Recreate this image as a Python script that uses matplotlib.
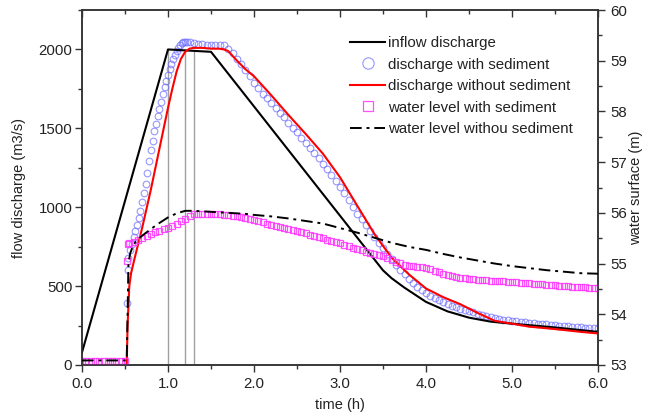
import numpy as np
import matplotlib
matplotlib.use("Agg")
import matplotlib.pyplot as plt
from matplotlib.ticker import MultipleLocator, FormatStrFormatter

plt.rcParams['font.family'] = ['Liberation Sans', 'DejaVu Sans']

# ---------------- data ----------------
# inflow discharge (m3/s)
inflow_t = [0.0, 1.0, 1.5, 3.5, 3.6, 3.75, 4.0, 4.25, 4.5, 4.75, 5.0, 5.5, 6.0]
inflow_q = [80, 2000, 1985, 600, 550, 490, 400, 340, 300, 275, 262, 238, 210]

# discharge without sediment (m3/s)
nosed_t = [0.0, 0.52, 0.53, 0.55, 0.57, 0.6, 0.65, 0.7, 0.75, 0.8, 0.85, 0.9, 0.95,
           1.0, 1.05, 1.1, 1.15, 1.2, 1.25, 1.3, 1.4, 1.5, 1.6, 1.65, 1.7, 1.8, 1.9,
           2.0, 2.2, 2.4, 2.6, 2.8, 3.0, 3.2, 3.4, 3.6, 3.8, 4.0, 4.2, 4.4, 4.6,
           4.8, 5.0, 5.2, 5.4, 5.6, 5.8, 6.0]
nosed_q = [0, 0, 250, 500, 580, 650, 760, 870, 990, 1110, 1240, 1370, 1500,
           1630, 1750, 1860, 1940, 1985, 2005, 2010, 2010, 2005, 2005, 2000, 1990, 1930, 1875,
           1830, 1710, 1585, 1465, 1340, 1190, 1010, 830, 680, 575, 485, 430, 385, 330,
           280, 262, 243, 233, 222, 210, 200]

# discharge with sediment (m3/s), markers
sed_t = [0.52, 0.53, 0.54, 0.56, 0.58, 0.60, 0.62, 0.64, 0.66, 0.68, 0.70, 0.72, 0.74,
         0.76, 0.78, 0.80, 0.82, 0.84, 0.86, 0.88, 0.90, 0.92, 0.94, 0.96, 0.98, 1.00,
         1.02, 1.04, 1.06, 1.08, 1.10, 1.12, 1.14, 1.16, 1.18, 1.20, 1.22, 1.25, 1.30,
         1.35, 1.40, 1.45, 1.50, 1.55, 1.60, 1.65, 1.70, 1.75, 1.80, 1.85, 1.90, 1.95,
         2.00, 2.05, 2.10, 2.15, 2.20, 2.25, 2.30, 2.35, 2.40, 2.45, 2.50, 2.55, 2.60,
         2.65, 2.70, 2.75, 2.80, 2.85, 2.90, 2.95, 3.00, 3.05, 3.10, 3.15, 3.20, 3.25,
         3.30, 3.35, 3.40, 3.45, 3.50, 3.55, 3.60, 3.65, 3.70, 3.75, 3.80, 3.85, 3.90,
         3.95, 4.00, 4.05, 4.10, 4.15, 4.20, 4.25, 4.30, 4.35, 4.40, 4.45, 4.50, 4.55,
         4.60, 4.65, 4.70, 4.75, 4.80, 4.85, 4.90, 4.95, 5.00, 5.05, 5.10, 5.15, 5.20,
         5.25, 5.30, 5.35, 5.40, 5.45, 5.50, 5.55, 5.60, 5.65, 5.70, 5.75, 5.80, 5.85,
         5.90, 5.95, 6.00]
sed_q = [390, 600, 680, 730, 770, 810, 850, 890, 930, 975, 1030, 1090, 1150,
         1220, 1290, 1360, 1420, 1480, 1530, 1580, 1625, 1670, 1715, 1760, 1800, 1840,
         1875, 1910, 1940, 1965, 1990, 2010, 2025, 2040, 2048, 2050, 2050, 2045, 2040,
         2035, 2035, 2030, 2030, 2030, 2025, 2025, 2005, 1975, 1940, 1905, 1870, 1830,
         1790, 1755, 1720, 1690, 1660, 1630, 1600, 1570, 1535, 1505, 1475, 1440, 1410,
         1375, 1345, 1310, 1275, 1240, 1205, 1165, 1128, 1090, 1045, 1000, 960, 925,
         885, 850, 810, 775, 740, 705, 670, 635, 605, 575, 545, 520, 495,
         475, 455, 440, 425, 410, 398, 388, 377, 367, 358, 350, 343, 335,
         325, 315, 308, 302, 297, 292, 288, 284, 280, 277, 273, 270, 268,
         265, 262, 260, 257, 255, 252, 250, 247, 245, 243, 241, 239, 237,
         235, 233, 232]

# water level with sediment (m), markers
wl_sed_t = [0.00, 0.05, 0.10, 0.15, 0.20, 0.25, 0.30, 0.35, 0.40, 0.45, 0.50, 0.52, 0.53,
            0.55, 0.60, 0.65, 0.70, 0.75, 0.80, 0.85, 0.90, 0.95, 1.00, 1.05, 1.10, 1.15,
            1.20, 1.25, 1.30, 1.35, 1.40, 1.45, 1.50, 1.55, 1.60, 1.65, 1.70, 1.75, 1.80,
            1.85, 1.90, 1.95, 2.00, 2.05, 2.10, 2.15, 2.20, 2.25, 2.30, 2.35, 2.40, 2.45,
            2.50, 2.55, 2.60, 2.65, 2.70, 2.75, 2.80, 2.85, 2.90, 2.95, 3.00, 3.05, 3.10,
            3.15, 3.20, 3.25, 3.30, 3.35, 3.40, 3.45, 3.50, 3.55, 3.60, 3.65, 3.70, 3.75,
            3.80, 3.85, 3.90, 3.95, 4.00, 4.05, 4.10, 4.15, 4.20, 4.25, 4.30, 4.35, 4.40,
            4.45, 4.50, 4.55, 4.60, 4.65, 4.70, 4.75, 4.80, 4.85, 4.90, 4.95, 5.00, 5.05,
            5.10, 5.15, 5.20, 5.25, 5.30, 5.35, 5.40, 5.45, 5.50, 5.55, 5.60, 5.65, 5.70,
            5.75, 5.80, 5.85, 5.90, 5.95, 6.00]
wl_sed_h = [53.07, 53.07, 53.07, 53.07, 53.07, 53.07, 53.07, 53.07, 53.07, 53.07, 53.07, 55.05, 55.38,
            55.40, 55.43, 55.47, 55.51, 55.55, 55.59, 55.62, 55.65, 55.68, 55.71, 55.74, 55.78, 55.83,
            55.88, 55.94, 55.97, 55.98, 55.98, 55.98, 55.98, 55.97, 55.97, 55.96, 55.95, 55.94, 55.93,
            55.92, 55.90, 55.88, 55.86, 55.84, 55.82, 55.79, 55.77, 55.75, 55.73, 55.71, 55.69, 55.67,
            55.65, 55.62, 55.60, 55.57, 55.55, 55.52, 55.50, 55.47, 55.45, 55.42, 55.40, 55.37, 55.34,
            55.31, 55.28, 55.26, 55.23, 55.21, 55.19, 55.17, 55.14, 55.11, 55.07, 55.04, 55.01, 54.98,
            54.96, 54.95, 54.94, 54.93, 54.91, 54.89, 54.86, 54.83, 54.80, 54.77, 54.75, 54.73, 54.72,
            54.71, 54.70, 54.69, 54.68, 54.67, 54.67, 54.66, 54.66, 54.65, 54.65, 54.64, 54.64, 54.63,
            54.62, 54.62, 54.61, 54.60, 54.60, 54.59, 54.58, 54.57, 54.57, 54.56, 54.56, 54.55, 54.54,
            54.54, 54.53, 54.53, 54.52, 54.52, 54.51]

# water level without sediment (m)
wl_nosed_t = [0.0, 0.52, 0.53, 0.54, 0.56, 0.6, 0.65, 0.7, 0.8, 0.9, 1.0, 1.1, 1.2, 1.3,
              1.4, 1.5, 1.6, 1.7, 1.8, 1.9, 2.0, 2.2, 2.4, 2.6, 2.8, 3.0, 3.2, 3.4, 3.6,
              3.8, 4.0, 4.2, 4.4, 4.6, 4.8, 5.0, 5.2, 5.4, 5.6, 5.8, 6.0]
wl_nosed_h = [53.09, 53.09, 54.0, 55.0, 55.2, 55.38, 55.48, 55.55, 55.68, 55.8, 55.91, 55.99, 56.04, 56.04,
              56.03, 56.02, 56.01, 56.0, 55.99, 55.98, 55.96, 55.93, 55.89, 55.84, 55.79, 55.70, 55.61, 55.51, 55.41,
              55.33, 55.27, 55.19, 55.12, 55.06, 55.0, 54.95, 54.91, 54.87, 54.84, 54.81, 54.80]

# reference vertical lines (time, top discharge)
vline_t = [1.0, 1.2, 1.3]
vline_top = [2000, 2000, 1988]

labels = ["inflow discharge", "discharge with sediment", "discharge without sediment",
          "water level with sediment", "water level withou sediment"]

# ---------------- figure ----------------
W, H = 645, 417
fig = plt.figure(figsize=(W / 100, H / 100), dpi=100)
ax = fig.add_axes([82 / W, 1 - 365 / H, (598 - 82) / W, (365 - 10) / H])
ax2 = ax.twinx()

txt = '#222222'
spc = '#333333'

ax.vlines(vline_t, 0, vline_top, colors='#a0a0a0', linewidth=1.0, zorder=1)
l_in, = ax.plot(inflow_t, inflow_q, color='black', lw=1.5, zorder=3)
l_sed, = ax.plot(sed_t, sed_q, ls='none', marker='o', ms=4.8, mfc='none',
                 mec='#6a6aff', mew=0.8, alpha=0.7, zorder=2)
l_ns, = ax.plot(nosed_t, nosed_q, color='#ff0000', lw=1.5, zorder=4)

l_wls, = ax2.plot(wl_sed_t, wl_sed_h, ls='none', marker='s', ms=4.3, mfc='none',
                  mec='#ff33ff', mew=0.9, alpha=0.85, zorder=2)
l_wln, = ax2.plot(wl_nosed_t, wl_nosed_h, color='black', lw=1.4,
                  dashes=(6, 2.5, 1.5, 2.5), zorder=3)

ax.set_xlim(0, 6)
ax.set_ylim(0, 2250)
ax2.set_ylim(53, 60)

ax.xaxis.set_major_locator(MultipleLocator(1.0))
ax.xaxis.set_minor_locator(MultipleLocator(0.5))
ax.xaxis.set_major_formatter(FormatStrFormatter('%.1f'))
ax.yaxis.set_major_locator(MultipleLocator(500))
ax.yaxis.set_minor_locator(MultipleLocator(250))
ax2.yaxis.set_major_locator(MultipleLocator(1))
ax2.yaxis.set_minor_locator(MultipleLocator(0.5))

fs_tick = 10.8
ax.tick_params(axis='x', which='both', direction='out', top=False, labelsize=fs_tick,
               colors=spc, labelcolor=txt, pad=4)
ax.tick_params(axis='x', which='major', length=5, width=1)
ax.tick_params(axis='x', which='minor', length=3, width=1)
ax.tick_params(axis='y', which='major', direction='out', length=5, width=1,
               labelsize=fs_tick, colors=spc, labelcolor=txt, pad=2)
ax.tick_params(axis='y', which='minor', direction='out', length=3, width=1, colors=spc)
ax2.tick_params(axis='y', which='major', direction='out', length=5, width=1,
                labelsize=fs_tick, colors=spc, labelcolor=txt, pad=4)
ax2.tick_params(axis='y', which='minor', direction='out', length=3, width=1, colors=spc)

# top axis ticks pointing inward
sec = ax.secondary_xaxis('top')
sec.xaxis.set_major_locator(MultipleLocator(1.0))
sec.xaxis.set_minor_locator(MultipleLocator(0.5))
sec.tick_params(axis='x', which='major', direction='in', length=5, width=1,
                labeltop=False, colors=spc)
sec.tick_params(axis='x', which='minor', direction='in', length=3, width=1, colors=spc)
sec.spines['top'].set_visible(False)

for a in (ax, ax2):
    for s in a.spines.values():
        s.set_color(spc)
        s.set_linewidth(1.1)

ax.set_xlabel('time (h)', fontsize=10.5, color=txt, labelpad=5)
ax.set_ylabel('flow discharge (m3/s)', fontsize=10.5, color=txt, labelpad=9)
ax2.set_ylabel('water surface (m)', fontsize=10.5, color=txt, labelpad=1)

handles = [l_in, l_sed, l_ns, l_wls, l_wln]
leg = ax2.legend(handles, labels, loc='upper left', frameon=False,
                 bbox_to_anchor=(350 / W, 1 - 36 / H), bbox_transform=fig.transFigure,
                 borderpad=0, borderaxespad=0, fontsize=10.8, handlelength=2.35,
                 handletextpad=0.2, labelspacing=0.5, markerscale=1.7, numpoints=1)
for t in leg.get_texts():
    t.set_color(txt)

fig.savefig('out.png', dpi=100)
